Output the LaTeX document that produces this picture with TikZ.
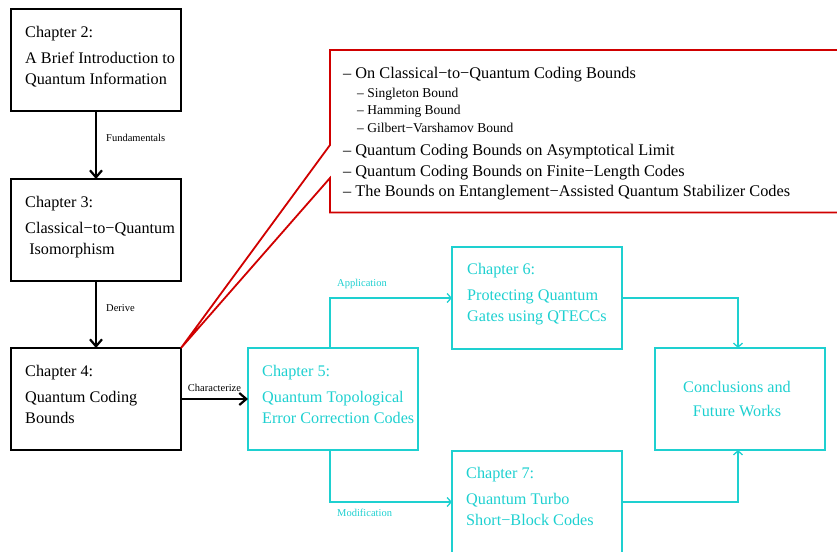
\documentclass[tikz,border=0pt]{standalone}
\usepackage{fontspec}
\setmainfont{Liberation Serif}
\usetikzlibrary{arrows.meta,calc}
\definecolor{flowcyan}{RGB}{30,208,208}
\definecolor{calloutred}{RGB}{208,0,0}

\begin{document}
\begin{tikzpicture}[x=1pt,y=-1pt,
  boxbase/.style={rectangle, minimum width=170pt, minimum height=102pt,
    inner sep=0pt, outer sep=0pt, anchor=north west},
  darkbox/.style={boxbase, draw=black, line width=2.6pt},
  lightbox/.style={boxbase, draw=flowcyan, line width=1.5pt},
  boxtext/.style={anchor=north west, inner sep=0pt, align=left,
    font=\fontsize{16.2}{21}\selectfont},
  edgelabel/.style={inner sep=0pt, font=\fontsize{10.5}{12}\selectfont},
  mainitem/.style={anchor=base west, inner sep=0pt, font=\fontsize{16.3}{20}\selectfont},
  subitem/.style={anchor=base west, inner sep=0pt, font=\fontsize{13.5}{16}\selectfont},
  darkarrow/.style={line width=2.2pt, -{Straight Barb[length=7pt,width=12pt,line width=2.2pt]}},
  lightarrow/.style={draw=flowcyan, line width=1.5pt, -{Straight Barb[length=4pt,width=9pt,line width=1.3pt]}},
]
\useasboundingbox (0,0) rectangle (837,551);

% ---- left column: chapters 2 to 4 ----
\node[darkbox] (ch2) at (11,9) {};
\node[darkbox] (ch3) at (11,179) {};
\node[darkbox] (ch4) at (11,348) {};

\node[boxtext] (ch2t) at ($(ch2.north west)+(14,17)$)
  {Chapter 2:\\[5pt]A Brief Introduction to\\Quantum Information};
\node[boxtext] (ch3t) at ($(ch3.north west)+(14,17)$)
  {Chapter 3:\\[5pt]Classical−to−Quantum\\\ Isomorphism};
\node[boxtext] (ch4t) at ($(ch4.north west)+(14,17)$)
  {Chapter 4:\\[5pt]Quantum Coding\\Bounds};

\draw[darkarrow] (ch2.south) -- (ch3.north);
\draw[darkarrow] (ch3.south) -- (ch4.north);
\node[edgelabel, anchor=west] (lfund) at ($(ch2.south)+(10,27)$) {Fundamentals};
\node[edgelabel, anchor=west] (lder) at ($(ch3.south)+(10,27)$) {Derive};

% ---- right part: chapters 5 to 7 and conclusions ----
\node[lightbox] (ch5) at (248,348) {};
\node[lightbox] (ch6) at (452,247) {};
\node[lightbox] (ch7) at (452,451) {};
\node[lightbox] (conc) at (655,348) {};

\begin{scope}[every node/.append style={text=flowcyan}]
\node[boxtext] (ch5t) at ($(ch5.north west)+(14,17)$)
  {Chapter 5:\\[5pt]Quantum Topological\\Error Correction Codes};
\node[boxtext] (ch6t) at ($(ch6.north west)+(15,16)$)
  {Chapter 6:\\[5pt]Protecting Quantum\\Gates using QTECCs};
\node[boxtext] (ch7t) at ($(ch7.north west)+(14,16)$)
  {Chapter 7:\\[5pt]Quantum Turbo\\Short−Block Codes};
\node[boxtext, anchor=center, align=center,
  font=\fontsize{16.2}{24}\selectfont] (conct) at ($(conc.center)+(-3,0)$)
  {Conclusions and\\Future Works};
\end{scope}

\draw[darkarrow] (ch4.east) -- (ch5.west);
\node[edgelabel, anchor=south] (lchar) at ($(ch4.east)!0.5!(ch5.west)+(0,-7)$) {Characterize};

\coordinate (ch5up) at ($(ch5.north)+(-3,0)$);
\coordinate (ch5dn) at ($(ch5.south)+(-3,0)$);
\coordinate (concup) at ($(conc.north)+(-2,0)$);
\coordinate (concdn) at ($(conc.south)+(-2,0)$);
\draw[lightarrow] (ch5up) |- (ch6.west);
\draw[lightarrow] (ch5dn) |- (ch7.west);
\draw[lightarrow] (ch6.east) -| (concup);
\draw[lightarrow] (ch7.east) -| (concdn);
\node[edgelabel, anchor=west, text=flowcyan] (lapp) at ($(ch5up)+(7,-64)$) {Application};
\node[edgelabel, anchor=west, text=flowcyan] (lmod) at ($(ch5dn)+(7,63)$) {Modification};

% ---- callout listing the bounds of chapter 4 ----
\node[rectangle, minimum width=512pt, minimum height=162pt, inner sep=0pt,
  anchor=north west] (bounds) at (330,50) {};
\draw[calloutred, line width=1.8pt, line join=miter]
  ($(bounds.north west)+(0,95)$) -- (ch4.north east)
  -- ($(bounds.north west)+(0,128)$) -- (bounds.south west)
  -- (bounds.south east) -- (bounds.north east) -- (bounds.north west) -- cycle;

\node[mainitem] (b1) at ($(bounds.north west)+(13,28)$) {– On Classical−to−Quantum Coding Bounds};
\node[subitem] (b2) at ($(bounds.north west)+(27,47)$) {– Singleton Bound};
\node[subitem] (b3) at ($(bounds.north west)+(27,64)$) {– Hamming Bound};
\node[subitem] (b4) at ($(bounds.north west)+(27,82)$) {– Gilbert−Varshamov Bound};
\node[mainitem] (b5) at ($(bounds.north west)+(13,105)$) {– Quantum Coding Bounds on Asymptotical Limit};
\node[mainitem] (b6) at ($(bounds.north west)+(13,126)$) {– Quantum Coding Bounds on Finite−Length Codes};
\node[mainitem] (b7) at ($(bounds.north west)+(13,146)$) {– The Bounds on Entanglement−Assisted Quantum Stabilizer Codes};
\end{tikzpicture}
\end{document}
